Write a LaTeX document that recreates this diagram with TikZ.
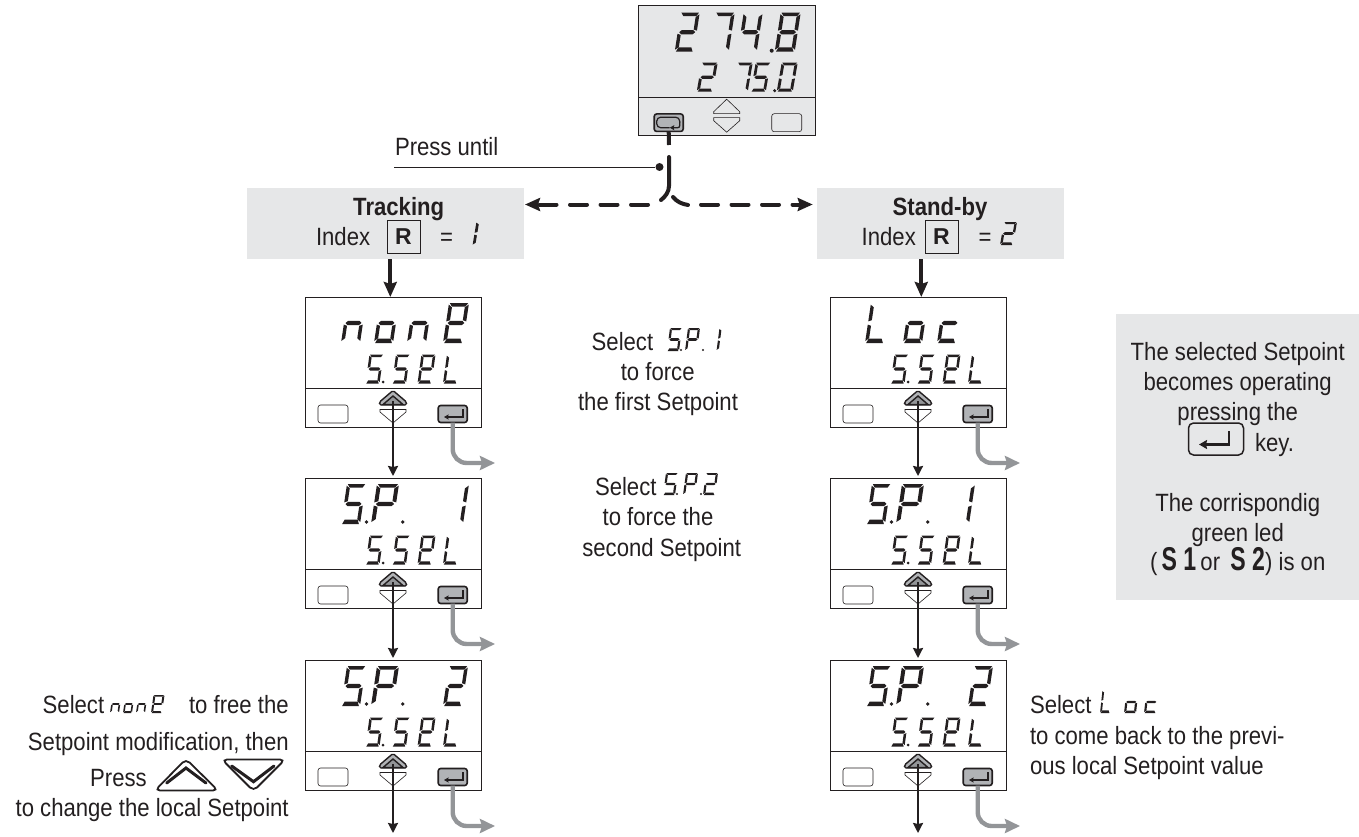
\documentclass[tikz,border=0pt]{standalone}
\usepackage{fontspec}
\setmainfont[FakeStretch=0.885]{Liberation Sans}
\newfontfamily\rfont{Liberation Sans}
\newfontfamily\sfont[FakeStretch=0.7]{Liberation Sans Bold}
\usetikzlibrary{arrows.meta}
\definecolor{ink}{HTML}{231F20}
\definecolor{panelgray}{HTML}{E6E7E8}
\definecolor{keygray}{HTML}{B1B3B6}
\definecolor{outgray}{HTML}{939598}
\tikzset{
  lab/.style={inner sep=0pt,outer sep=0pt,text=ink,font=\fontsize{25}{30}\selectfont},
  labb/.style={lab,font=\fontsize{25}{30}\selectfont\bfseries},
  graybox/.style={fill=panelgray,draw=none,inner sep=0pt,outer sep=0pt,anchor=north west},
  disp/.style={draw=ink,line width=1pt,inner sep=0pt,outer sep=0pt,anchor=north west,minimum width=176.5pt,minimum height=130pt},
  freekey/.style={draw=ink,line width=.6pt,fill=white,rounded corners=2.5pt,minimum width=30pt,minimum height=18pt,inner sep=0pt,outer sep=0pt},
  darkkey/.style={draw=ink,line width=1.6pt,fill=keygray,rounded corners=2.5pt,minimum width=29pt,minimum height=17pt,inner sep=0pt,outer sep=0pt},
  thickarrow/.style={draw=ink,line width=4pt,-{Stealth[length=15pt,width=13pt,inset=2pt]}},
  thinarrow/.style={draw=ink,line width=2pt,-{Stealth[length=10pt,width=10pt,inset=1pt]}},
  outarrow/.style={draw=outgray,line width=4.4pt,rounded corners=14pt,-{Stealth[length=15pt,width=14pt,inset=2pt]}},
  dasharrow/.style={draw=ink,line width=4pt,line cap=round,dash pattern=on 17pt off 13.5pt,-{Stealth[length=15pt,width=13pt,inset=2pt]}},
  solidstroke/.style={draw=ink,line width=4pt,line cap=round},
  retarrow/.style={draw=ink,line width=1.3pt,-{Stealth[length=4.5pt,width=5pt,inset=.5pt]}},
}
% seven segments in a unit cell
\def\sega{\fill[ink] (.04,1)--(.96,1)--(.85,.91)--(.17,.91)--cycle;}
\def\segb{\fill[ink] (1,.96)--(1,.54)--(.82,.57)--(.82,.89)--cycle;}
\def\segc{\fill[ink] (1,.46)--(1,.05)--(.82,.12)--(.82,.43)--cycle;}
\def\segd{\fill[ink] (.06,0)--(.94,0)--(.84,.11)--(.16,.11)--cycle;}
\def\sege{\fill[ink] (0,.46)--(0,.05)--(.18,.12)--(.18,.43)--cycle;}
\def\segf{\fill[ink] (0,.96)--(0,.54)--(.18,.57)--(.18,.89)--cycle;}
\def\segg{\fill[ink] (.08,.5)--(.2,.555)--(.8,.555)--(.92,.5)--(.8,.445)--(.2,.445)--cycle;}
\newcommand\sevseg[6]{\begin{scope}[shift={(#1,#2)},x={(#3pt,0pt)},y={(#5pt,#4pt)}]
  \foreach \s in #6 {\csname seg\s\endcsname}\end{scope}}
\def\gS{a,f,g,c,d}\def\gP{a,b,e,f,g}\def\gE{a,b,d,e,f,g}\def\gL{d,e,f}
\def\gTwo{a,b,g,e,d}\def\gSeven{a,b,c}\def\gFour{f,g,b,c}\def\gEight{a,b,c,d,e,f,g}
\def\gZero{a,b,c,d,e,f}\def\gn{e,g,c}\def\go{c,d,e,g}\def\gc{d,e,g}\def\gOne{b,c}\def\gBar{e,f}
% big row glyph and small row glyph, relative to the panel
\newcommand\bigglyph[2]{\sevseg{#1}{46}{19}{40}{6}{#2}}
\newcommand\rowSSEL{%
  \sevseg{60.5}{86.5}{14}{29}{4}{\gS}\fill[ink] (78,85) circle (1.5pt);
  \sevseg{87}{86.5}{14}{29}{4}{\gS}
  \sevseg{112.5}{86.5}{14}{29}{4}{\gE}
  \sevseg{138}{86.5}{14}{29}{4}{\gL}}
\newcommand\rowSP{%
  \bigglyph{36}{\gS}\fill[ink] (61.5,44) circle (1.9pt);
  \sevseg{66}{46}{22}{40}{6}{\gP}\fill[ink] (97.7,44) circle (1.9pt);}
% panel: name, x, y
\newcommand\panel[3]{%
  \node[disp] (#1) at (#2,#3) {};
  \begin{scope}[shift={(#2,#3)}]
    \draw[ink,line width=1pt] (0,91.5) -- (176.5,91.5);
    \node[freekey] (#1-free) at (28,117) {};
    \node[darkkey] (#1-enter) at (147.7,117) {};
    \draw[retarrow] (158,112) -- (158,120) -- (139,120);
    \draw[ink,line width=.6pt] (75,112.5) -- (101,112.5) -- (101,115) -- (88,126) -- (75,115) -- cycle;
    \draw[ink,line width=1.4pt,fill=keygray,rounded corners=1.5pt] (74.5,108) -- (74.5,105) -- (88,93.5) -- (101.5,105) -- (101.5,108) -- cycle;
    \draw[ink,line width=1.4pt,fill=outgray] (78,107.5) -- (88,99) -- (98,107.5) -- cycle;
    \coordinate (#1-up) at (88,104);
    \coordinate (#1-out) at (190,166);
    \rowSSEL
  \end{scope}
  \draw[outarrow] (#1-enter.south) |- (#1-out);
}
\begin{document}
\begin{tikzpicture}[x=1pt,y=-1pt]
\useasboundingbox (0,0) rectangle (1359,837);
% gray boxes
\node[graybox,minimum width=277pt,minimum height=70.7pt] (track) at (247,188) {};
\node[graybox,minimum width=247.3pt,minimum height=70.7pt] (standby) at (816.7,188) {};
\node[graybox,minimum width=243pt,minimum height=286pt] (note) at (1116,314) {};
% top display
\node[disp,fill=panelgray] (top) at (638.7,5.7) {};
\begin{scope}[shift={(638.7,5.7)}]
  \draw[ink,line width=1pt] (0,91.5) -- (176.5,91.5);
  \node[darkkey,minimum width=29pt,minimum height=17.5pt] (topkey) at (30,117) {};
  \draw[ink,line width=1.2pt,rounded corners=4pt] (41,117) -- (41,111.5) -- (18,111.5) -- (18,122) -- (31,122);
  \draw[retarrow,rounded corners=2pt] (41,116) -- (41,122) -- (31,122);
  \draw[ink,line width=.6pt] (75,108) -- (75,106) -- (88,93.5) -- (101,106) -- (101,108) -- cycle;
  \draw[ink,line width=.6pt] (75,112) -- (101,112) -- (101,115) -- (88,126.5) -- (75,115) -- cycle;
  \node[draw=ink,line width=.6pt,rounded corners=2.5pt,minimum width=30pt,minimum height=18pt,inner sep=0pt] (topfree) at (148,117) {};
  \sevseg{36}{46}{19}{39}{6}{\gTwo}
  \sevseg{71}{46}{19}{39}{6}{\gSeven}
  \sevseg{99}{46}{19}{39}{6}{\gFour}\fill[ink] (133,45) circle (2pt);
  \sevseg{136}{46}{20}{39}{6}{\gEight}
  \sevseg{58}{86}{16}{29}{5}{\gTwo}
  \sevseg{94}{86}{15}{29}{5}{\gSeven}
  \sevseg{112}{86}{15}{29}{5}{\gS}\fill[ink] (136,85) circle (1.7pt);
  \sevseg{138}{86}{16}{29}{5}{\gZero}
\end{scope}
% panels
\panel{a}{305}{297}
\panel{b}{305}{478}
\panel{c}{305}{660}
\panel{d}{830}{297}
\panel{e}{830}{478}
\panel{f}{830}{660}
% display contents
\begin{scope}[shift={(305,297)}]
  \bigglyph{36}{\gn}\bigglyph{69}{\go}\bigglyph{102}{\gn}\sevseg{138}{46}{20}{40}{6}{\gE}
\end{scope}
\begin{scope}[shift={(305,478)}]
  \rowSP \bigglyph{139}{\gOne}
\end{scope}
\begin{scope}[shift={(305,660)}]
  \rowSP \bigglyph{138}{\gTwo}
\end{scope}
\begin{scope}[shift={(830,297)}]
  \bigglyph{35}{\gL}\bigglyph{73}{\go}\bigglyph{107}{\gc}
\end{scope}
\begin{scope}[shift={(830,478)}]
  \rowSP \bigglyph{120}{\gOne}
\end{scope}
\begin{scope}[shift={(830,660)}]
  \rowSP \bigglyph{138}{\gTwo}
\end{scope}
% thin connectors
\coordinate (cend) at (393,833);
\coordinate (fend) at (918,833);
\draw[thinarrow,shorten >=2pt] (a-up) -- (a-up |- b.north);
\draw[thinarrow,shorten >=2pt] (b-up) -- (b-up |- c.north);
\draw[thinarrow] (c-up) -- (cend);
\draw[thinarrow,shorten >=2pt] (d-up) -- (d-up |- e.north);
\draw[thinarrow,shorten >=2pt] (e-up) -- (e-up |- f.north);
\draw[thinarrow] (f-up) -- (fend);
% thick connectors
\coordinate (ain) at (390.3,259);
\coordinate (din) at (921.3,259);
\draw[thickarrow] (ain) -- (ain |- a.north);
\draw[thickarrow] (din) -- (din |- d.north);
% press-until junction
\coordinate (gapend) at (669,145);
\coordinate (vtop) at (669,157);
\coordinate (lcurve) at (661,200);
\coordinate (rcurve) at (673,197);
\coordinate (rcurveend) at (688,205);
\coordinate (lstart) at (648,204.5);
\coordinate (rstart) at (701,204.5);
\draw[solidstroke,line cap=butt] (topkey.south) -- (gapend);
\draw[solidstroke] (vtop) -- (669,186) .. controls (669,192) and (665,197) .. (lcurve);
\draw[solidstroke] (rcurve) .. controls (677,202) and (682,204) .. (rcurveend);
\draw[dasharrow,shorten >=1pt] (lstart) -- (lstart -| track.east);
\draw[dasharrow,shorten >=4pt] (rstart) -- (rstart -| standby.west);
\coordinate (pressend) at (394,167);
\node[circle,fill=ink,minimum size=8pt,inner sep=0pt] (pressdot) at (659.5,167) {};
\draw[ink,line width=.8pt] (pressend) -- (pressdot);
\node[lab,anchor=base west] (press) at (395,156) {Press until};
% gray box labels
\node[labb,anchor=base] (trackt) at (398.7,215) {Tracking};
\node[lab,anchor=base west] (tracki) at (316,245.7) {Index};
\node[draw=ink,line width=.7pt,minimum size=33pt,inner sep=0pt,font=\rfont\fontsize{23}{23}\selectfont\bfseries,text=ink] (trackr) at (403.5,236.5) {R};
\node[lab,anchor=base] (tracke) at (446.7,245.7) {=};
\sevseg{472.5}{245.7}{15}{24}{4}{\gBar}
\node[labb,anchor=base] (standt) at (940,215) {Stand-by};
\node[lab,anchor=base west] (standi) at (861.7,245.7) {Index};
\node[draw=ink,line width=.7pt,minimum size=33pt,inner sep=0pt,font=\rfont\fontsize{23}{23}\selectfont\bfseries,text=ink] (standr) at (941.5,236.5) {R};
\node[lab,anchor=base] (stande) at (985,245.7) {=};
\sevseg{1000}{245}{13}{23}{4}{\gTwo}
% centre texts
\node[lab,anchor=base west] (m1) at (591.7,350) {Select};
\sevseg{667}{351}{12}{23}{3}{\gS}\fill[ink] (681,350) circle (1.1pt);
\sevseg{685}{351}{12}{23}{3}{\gP}\fill[ink] (703,350) circle (1.1pt);
\sevseg{716.5}{351}{12}{23}{3}{\gBar}
\node[lab,anchor=base] (m2) at (657.7,380) {to force};
\node[lab,anchor=base] (m3) at (658,410) {the first Setpoint};
\node[lab,anchor=base west] (m4) at (595,495) {Select};
\sevseg{663}{495}{12}{22}{3}{\gS}\fill[ink] (677,494) circle (1.1pt);
\sevseg{683}{495}{12}{22}{3}{\gP}\fill[ink] (701,494) circle (1.1pt);
\sevseg{703}{495}{12}{22}{3}{\gTwo}
\node[lab,anchor=base] (m5) at (658,525) {to force the};
\node[lab,anchor=base] (m6) at (661.7,556) {second Setpoint};
% left text
\node[lab,anchor=base west] (l1a) at (42.7,713) {Select};
\sevseg{110}{713}{9}{18}{2.5}{\gn}
\sevseg{123}{713}{9}{18}{2.5}{\go}
\sevseg{136}{713}{9}{18}{2.5}{\gn}
\sevseg{151}{713}{11}{18}{2.5}{\gE}
\node[lab,anchor=base east] (l1b) at (288.7,713) {to free the};
\node[lab,anchor=base east] (l2) at (288.7,750) {Setpoint modification, then};
\node[lab,anchor=base east] (l3) at (146.7,786) {Press};
\node[lab,anchor=base east] (l4) at (288.7,816) {to change the local Setpoint};
\draw[ink,line width=1.8pt,rounded corners=5pt] (155,790.5) -- (186,759) -- (218,790.5) -- cycle;
\draw[ink,line width=3pt,line cap=round] (166.7,783) -- (186,768) -- (206,783);
\draw[ink,line width=1.8pt,rounded corners=5pt] (222,759.5) -- (285,759.5) -- (253.5,791) -- cycle;
\draw[ink,line width=3pt,line cap=round] (231.7,766) -- (253.5,781.7) -- (274,766);
% right text
\node[lab,anchor=base west] (r1) at (1030,713) {Select};
\sevseg{1100}{713}{10}{23}{2.5}{\gL}
\sevseg{1124}{713}{12}{22}{2.5}{\go}
\sevseg{1144}{713}{12}{22}{2.5}{\gc}
\node[lab,anchor=base west] (r2) at (1030,744) {to come back to the previ-};
\node[lab,anchor=base west] (r3) at (1030,774.5) {ous local Setpoint value};
% note
\node[lab,anchor=base] (n1) at (1237.7,360) {The selected Setpoint};
\node[lab,anchor=base] (n2) at (1237.7,390) {becomes operating};
\node[lab,anchor=base] (n3) at (1237.7,420) {pressing the};
\node[draw=ink,line width=1.5pt,rounded corners=5pt,minimum width=55pt,minimum height=32pt,inner sep=0pt] (nkey) at (1216,439) {};
\draw[ink,line width=2.4pt,-{Stealth[length=8pt,width=9pt,inset=1pt]}] (1229,431) -- (1229,444.5) -- (1199,444.5);
\node[lab,anchor=base west] (n4) at (1255,451) {key.};
\node[lab,anchor=base] (n5) at (1237.7,511) {The corrispondig};
\node[lab,anchor=base] (n6) at (1237.7,541) {green led};
\node[lab,anchor=base] (n7) at (1237.7,570) {(\,{\sfont\fontsize{33}{33}\selectfont S 1}\,or \,{\sfont\fontsize{33}{33}\selectfont S 2}) is on};
\end{tikzpicture}
\end{document}
